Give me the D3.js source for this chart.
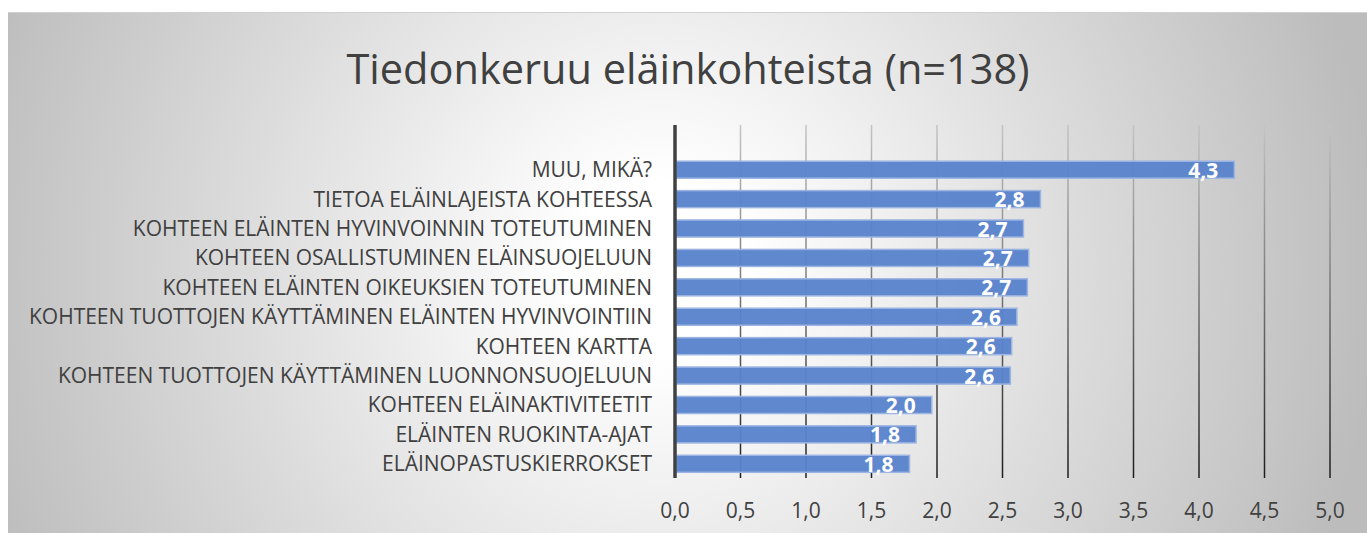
<!DOCTYPE html>
<html>
<head>
<meta charset="utf-8">
<script src="https://cdn.jsdelivr.net/npm/d3@7"></script>
<style>
  body { margin: 0; background: #fff; }
  svg { display: block; }
  text { font-family: "Open Sans", "Noto Sans", sans-serif; }
</style>
</head>
<body>
<svg id="chart"></svg>
<script>
// Tiedot (luettu kuvasta)
const kategoriat = [
  "MUU, MIKÄ?",
  "TIETOA ELÄINLAJEISTA KOHTEESSA",
  "KOHTEEN ELÄINTEN HYVINVOINNIN TOTEUTUMINEN",
  "KOHTEEN OSALLISTUMINEN ELÄINSUOJELUUN",
  "KOHTEEN ELÄINTEN OIKEUKSIEN TOTEUTUMINEN",
  "KOHTEEN TUOTTOJEN KÄYTTÄMINEN ELÄINTEN HYVINVOINTIIN",
  "KOHTEEN KARTTA",
  "KOHTEEN TUOTTOJEN KÄYTTÄMINEN LUONNONSUOJELUUN",
  "KOHTEEN ELÄINAKTIVITEETIT",
  "ELÄINTEN RUOKINTA-AJAT",
  "ELÄINOPASTUSKIERROKSET"
];
const arvot = [4.27, 2.79, 2.66, 2.70, 2.69, 2.61, 2.57, 2.56, 1.96, 1.84, 1.79];
const tikit = [0, 0.5, 1, 1.5, 2, 2.5, 3, 3.5, 4, 4.5, 5];
const otsikko = "Tiedonkeruu eläinkohteista (n=138)";

const width = 1367, height = 533;
const svg = d3.select("#chart")
    .attr("width", width)
    .attr("height", height);

const defs = svg.append("defs");

// Taustan säteittäinen liukuväri
const bg = defs.append("radialGradient")
    .attr("id", "bg")
    .attr("gradientUnits", "userSpaceOnUse")
    .attr("cx", 660).attr("cy", 270).attr("r", 720);
bg.append("stop").attr("offset", 0).attr("stop-color", "#ffffff");
bg.append("stop").attr("offset", 0.12).attr("stop-color", "#ffffff");
bg.append("stop").attr("offset", 1).attr("stop-color", "#bcbcbc");

// Ruudukon viivojen liukuväri (ylhäältä vaalea, alhaalta tumma)
const gridGrad = defs.append("linearGradient")
    .attr("id", "gridGrad")
    .attr("gradientUnits", "userSpaceOnUse")
    .attr("x1", 0).attr("y1", 125).attr("x2", 0).attr("y2", 478);
gridGrad.append("stop").attr("offset", 0).attr("stop-color", "#c4c4c4");
gridGrad.append("stop").attr("offset", 1).attr("stop-color", "#1e1e1e");

svg.append("rect")
    .attr("x", 8).attr("y", 12)
    .attr("width", width - 8).attr("height", height - 12)
    .attr("fill", "url(#bg)");
svg.append("line")
    .attr("x1", 8).attr("x2", width)
    .attr("y1", 12.5).attr("y2", 12.5)
    .attr("stroke", "#d0d0d0").attr("stroke-width", 1);

// Otsikko
svg.append("text")
    .attr("x", 688).attr("y", 84)
    .attr("text-anchor", "middle")
    .attr("font-size", 41.5)
    .attr("fill", "#404040")
    .text(otsikko);

// Asteikot
const x = d3.scaleLinear().domain([0, 5]).range([675, 1330]);
const y = d3.scaleBand().domain(kategoriat).range([155, 478.5]).paddingInner(0.42).paddingOuter(0.21);

const gridTop = 125, gridBottom = 478;

// Pystyviivat
svg.append("g").selectAll("line")
    .data(tikit.slice(1))
    .enter()
    .append("line")
    .attr("x1", d => x(d)).attr("x2", d => x(d))
    .attr("y1", gridTop).attr("y2", gridBottom)
    .attr("stroke", "url(#gridGrad)")
    .attr("stroke-width", 1.5);

// Palkit
svg.append("g").selectAll("rect")
    .data(arvot)
    .enter()
    .append("rect")
    .attr("x", x(0) + 1)
    .attr("y", (d, i) => y(kategoriat[i]))
    .attr("width", d => x(d) - x(0) - 1)
    .attr("height", y.bandwidth())
    .attr("fill", "#5a83cc")
    .attr("fill-opacity", 0.96)
    .attr("stroke", "#9db5e2")
    .attr("stroke-width", 1.5);

// Pystyakseli
svg.append("line")
    .attr("x1", x(0)).attr("x2", x(0))
    .attr("y1", gridTop).attr("y2", gridBottom)
    .attr("stroke", "#404040")
    .attr("stroke-width", 3.5);

// Arvotunnisteet
const fmt = d => d3.format(".1f")(d).replace(".", ",");
svg.append("g").selectAll("text")
    .data(arvot)
    .enter()
    .append("text")
    .attr("x", d => x(d) - 16)
    .attr("y", (d, i) => y(kategoriat[i]) + y.bandwidth() / 2 + 8)
    .attr("text-anchor", "end")
    .attr("font-size", 21)
    .attr("font-weight", "bold")
    .attr("fill", "#ffffff")
    .text(fmt);

// Luokkien nimet
svg.append("g").selectAll("text")
    .data(kategoriat)
    .enter()
    .append("text")
    .attr("x", 652)
    .attr("y", d => y(d) + y.bandwidth() / 2 + 7.5)
    .attr("text-anchor", "end")
    .attr("font-size", 21)
    .attr("fill", "#404040")
    .text(d => d);

// X-akselin tunnisteet
svg.append("g").selectAll("text")
    .data(tikit)
    .enter()
    .append("text")
    .attr("x", d => x(d))
    .attr("y", 518)
    .attr("text-anchor", "middle")
    .attr("font-size", 21)
    .attr("fill", "#404040")
    .text(fmt);
</script>
</body>
</html>
